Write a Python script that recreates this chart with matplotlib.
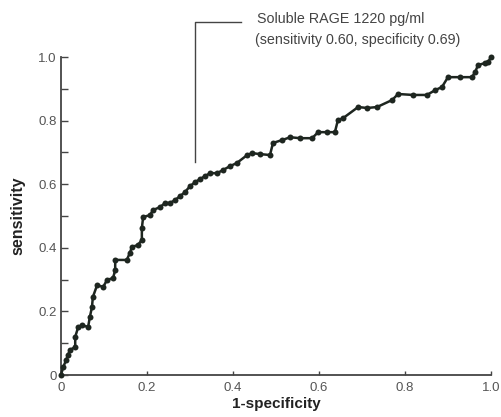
import numpy as np
import matplotlib
matplotlib.use("Agg")
import matplotlib.pyplot as plt

# ROC curve points (1-specificity, sensitivity)
fpr = [0.0, 0.005, 0.012, 0.016, 0.021, 0.033, 0.033, 0.040, 0.049, 0.063,
       0.067, 0.072, 0.074, 0.084, 0.098, 0.107, 0.121, 0.126, 0.126, 0.153,
       0.160, 0.165, 0.179, 0.188, 0.188, 0.191, 0.207, 0.214, 0.230, 0.242,
       0.253, 0.265, 0.277, 0.288, 0.300, 0.312, 0.323, 0.335, 0.347, 0.363,
       0.377, 0.393, 0.409, 0.433, 0.444, 0.463, 0.486, 0.493, 0.514, 0.533,
       0.556, 0.584, 0.598, 0.619, 0.637, 0.644, 0.656, 0.691, 0.712, 0.735,
       0.770, 0.784, 0.819, 0.851, 0.870, 0.886, 0.900, 0.928, 0.956, 0.963,
       0.970, 0.985, 0.993, 1.0]
tpr = [0.0, 0.025, 0.047, 0.063, 0.079, 0.088, 0.120, 0.151, 0.157, 0.151,
       0.182, 0.214, 0.245, 0.283, 0.277, 0.299, 0.305, 0.330, 0.362, 0.362,
       0.384, 0.403, 0.409, 0.425, 0.462, 0.497, 0.503, 0.519, 0.528, 0.541,
       0.541, 0.550, 0.563, 0.575, 0.594, 0.607, 0.616, 0.626, 0.635, 0.635,
       0.645, 0.657, 0.667, 0.692, 0.698, 0.695, 0.692, 0.730, 0.739, 0.748,
       0.745, 0.745, 0.764, 0.764, 0.764, 0.802, 0.808, 0.843, 0.840, 0.843,
       0.865, 0.884, 0.881, 0.881, 0.896, 0.906, 0.937, 0.937, 0.937, 0.953,
       0.975, 0.981, 0.984, 1.0]

xticks = [0, 0.2, 0.4, 0.6, 0.8, 1.0]
xticklabels = ["0", "0.2", "0.4", "0.6", "0.8", "1.0"]
yticks = [0, 0.2, 0.4, 0.6, 0.8, 1.0]
yticklabels = ["0", "0.2", "0.4", "0.6", "0.8", "1.0"]

plt.rcParams["font.family"] = ["Liberation Sans", "DejaVu Sans"]

fig = plt.figure(figsize=(5.01, 4.17), dpi=100)
ax = fig.add_axes([0.1218, 0.1007, 0.8582, 0.7623])

ax.plot(fpr, tpr, color="#1e2620", lw=1.8, marker="o", ms=4.3,
        markeredgewidth=0, clip_on=False, zorder=3)

ax.set_xlim(0, 1.0)
ax.set_ylim(0, 1.0)
for s in ["top", "right"]:
    ax.spines[s].set_visible(False)
for s in ["left", "bottom"]:
    ax.spines[s].set_color("#444444")
    ax.spines[s].set_linewidth(1.3)

ax.set_xticks(xticks)
ax.set_xticklabels(xticklabels)
ax.set_yticks(yticks)
ax.set_yticklabels(yticklabels)
ax.set_yticks(np.arange(0.1, 1.0, 0.2), minor=True)
ax.tick_params(axis="y", which="both", direction="in", length=5, width=1,
               color="#444444", labelsize=9.5, labelcolor="#555555", pad=3)
ax.tick_params(axis="x", direction="in", length=3, width=1,
               color="#444444", labelsize=9.5, labelcolor="#555555", pad=5)

ax.set_xlabel("1-specificity", fontsize=11, fontweight="bold",
              color="#222222", labelpad=2)
ax.set_ylabel("sensitivity", fontsize=11.5, fontweight="bold",
              color="#222222", labelpad=9)

# callout for the cut-off point
ax.plot([0.312, 0.312, 0.419], [0.67, 1.11, 1.11], color="#444444",
        lw=1.0, clip_on=False)
ax.text(0.456, 1.12, "Soluble RAGE 1220 pg/ml", fontsize=10.3,
        color="#444444", va="center", ha="left", clip_on=False)
ax.text(0.452, 1.053, "(sensitivity 0.60, specificity 0.69)", fontsize=10.3,
        color="#444444", va="center", ha="left", clip_on=False)

fig.savefig("out.png", dpi=100)
